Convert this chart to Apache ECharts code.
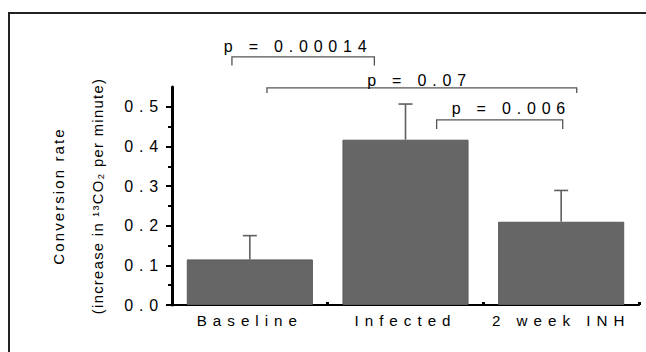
<!DOCTYPE html>
<html><head><meta charset="utf-8">
<script src="https://cdn.jsdelivr.net/npm/echarts@6/dist/echarts.min.js"></script>
<style>
html,body{margin:0;padding:0;background:#fff}
#c{width:646px;height:352px}
#c svg text[style*="font-size: 15.2px"]{letter-spacing:6px}
#c svg text[style*="font-size: 16px"]{letter-spacing:5.8px}
#c svg text[style*="font-size: 15px"]{letter-spacing:2.1px}
#c svg text[style*="font-size: 14.8px"]{letter-spacing:1.3px}
</style>
</head><body><div id="c"></div>
<script>
const categories = ['Baseline', 'Infected', '2 week INH'];
const conversionRate = [0.115, 0.417, 0.210];
const errorUpper = [0.175, 0.507, 0.289];
const yTickValues = [0, 0.1, 0.2, 0.3, 0.4, 0.5];
const yMinorTickValues = [0.05, 0.15, 0.25, 0.35, 0.45];
const pLabels = ['p = 0.00014', 'p = 0.07', 'p = 0.006'];
const pPairs = [[0, 1], [0, 2], [1, 2]];
const yTitleLines = ['Conversion rate', '(increase in \u00b9\u00b3CO\u2082 per minute)'];

const FONT = '"Liberation Sans", Arial, sans-serif';
// bracket layout (data units, offsets relative to the compared categories)
const bracketLayout = [
  {o1: -0.115, o2: -0.20, y: 0.626, drop: 0.022, tx: 0.31, ty: 0.652},
  {o1: 0.11, o2: 0.10, y: 0.548, drop: 0.013, tx: 1.09, ty: 0.566},
  {o1: 0.20, o2: 0.01, y: 0.467, drop: 0.023, tx: 1.68, ty: 0.497}
];

const chart = echarts.init(document.getElementById('c'), null, {renderer: 'svg'});

const option = {
  backgroundColor: '#fff',
  animation: false,
  graphic: [{
    type: 'rect', silent: true,
    shape: {x: 9, y: 13, width: 700, height: 400},
    style: {fill: 'none', stroke: '#222', lineWidth: 2}
  }],
  grid: {left: 172, right: 7, top: 87, bottom: 47, outerBoundsMode: 'none', containLabel: false},
  xAxis: [{
    type: 'category', data: categories,
    axisLine: {lineStyle: {color: '#000', width: 2}},
    axisTick: {show: true, inside: true, length: 3, lineStyle: {color: '#000', width: 3}},
    axisLabel: {fontSize: 15.2, color: '#000', margin: 8, fontFamily: FONT, interval: 0}
  }, {
    type: 'value', min: -0.5, max: 2.5, show: false
  }],
  yAxis: [{
    type: 'value', min: 0, max: 0.55, position: 'left',
    axisLine: {show: true, onZero: false, lineStyle: {color: '#000', width: 3}},
    axisTick: {show: true, customValues: yTickValues, length: 6, lineStyle: {color: '#000', width: 2}},
    axisLabel: {customValues: yTickValues, formatter: v => v.toFixed(1), fontSize: 16, color: '#000', margin: 8, fontFamily: FONT},
    splitLine: {show: false},
    name: '{a|' + yTitleLines[0] + '}\n{b|' + yTitleLines[1] + '}',
    nameLocation: 'middle', nameRotate: 90, nameGap: 55,
    nameTextStyle: {
      fontSize: 15, lineHeight: 39, color: '#000', fontFamily: FONT,
      rich: {
        a: {fontSize: 15, lineHeight: 39, color: '#000', fontFamily: FONT},
        b: {fontSize: 14.8, lineHeight: 39, color: '#000', fontFamily: FONT}
      }
    }
  }, {
    type: 'value', min: 0, max: 0.55, position: 'left', offset: 0,
    axisLine: {show: false, onZero: false},
    axisTick: {show: true, customValues: yMinorTickValues, length: 4, lineStyle: {color: '#000', width: 2}},
    axisLabel: {show: false},
    splitLine: {show: false}
  }],
  series: [{
    type: 'bar', data: conversionRate, barWidth: '81%',
    itemStyle: {color: '#666666', borderColor: '#5a5a5a', borderWidth: 1}
  }, {
    type: 'custom', xAxisIndex: 0, yAxisIndex: 0, z: 3,
    data: conversionRate.map((v, i) => [i, errorUpper[i], v]),
    renderItem: (params, api) => {
      const top = api.coord([api.value(0), api.value(1)]);
      const base = api.coord([api.value(0), api.value(2)]);
      const hw = 7;
      const st = {stroke: '#5f5f5f', lineWidth: 1.6};
      return {type: 'group', children: [
        {type: 'line', shape: {x1: top[0], y1: top[1], x2: base[0], y2: base[1]}, style: st},
        {type: 'line', shape: {x1: top[0] - hw, y1: top[1], x2: top[0] + hw, y2: top[1]}, style: st}
      ]};
    }
  }, {
    type: 'custom', xAxisIndex: 1, yAxisIndex: 0, clip: false, z: 4,
    data: pLabels.map((p, i) => [i]),
    renderItem: (params, api) => {
      const i = params.dataIndex;
      const L = bracketLayout[i];
      const x1 = pPairs[i][0] + L.o1, x2 = pPairs[i][1] + L.o2;
      const a = api.coord([x1, L.y]), b = api.coord([x2, L.y]);
      const a2 = api.coord([x1, L.y - L.drop]), b2 = api.coord([x2, L.y - L.drop]);
      const t = api.coord([L.tx, L.ty]);
      const st = {stroke: '#555', lineWidth: 1.3, fill: 'none'};
      return {type: 'group', children: [
        {type: 'polyline', shape: {points: [a2, a, b, b2]}, style: st},
        {type: 'text', x: t[0], y: t[1], style: {
          text: pLabels[i], fill: '#000', font: '16px ' + FONT,
          textAlign: 'center', verticalAlign: 'middle', textVerticalAlign: 'middle'
        }}
      ]};
    }
  }]
};
chart.setOption(option);

function spacingFor(s) {
  s = (s || '').replace(/\s+/g, ' ').trim();
  if (categories.indexOf(s) >= 0) return 6;
  if (pLabels.indexOf(s) >= 0) return 5.8;
  if (/^\d\.\d$/.test(s)) return 5.8;
  if (s.indexOf('increase') >= 0) return 1.3;
  if (s.indexOf('onversion') >= 0) return 2.1;
  return null;
}
function applySpacing() {
  document.querySelectorAll('#c svg text').forEach(t => {
    const ls = spacingFor(t.textContent);
    if (ls !== null) {
      t.style.letterSpacing = ls + 'px';
      t.setAttribute('letter-spacing', ls);
    }
  });
}
chart.on('finished', applySpacing);
applySpacing();
setTimeout(applySpacing, 100);
setTimeout(applySpacing, 400);
</script>
</body></html>
